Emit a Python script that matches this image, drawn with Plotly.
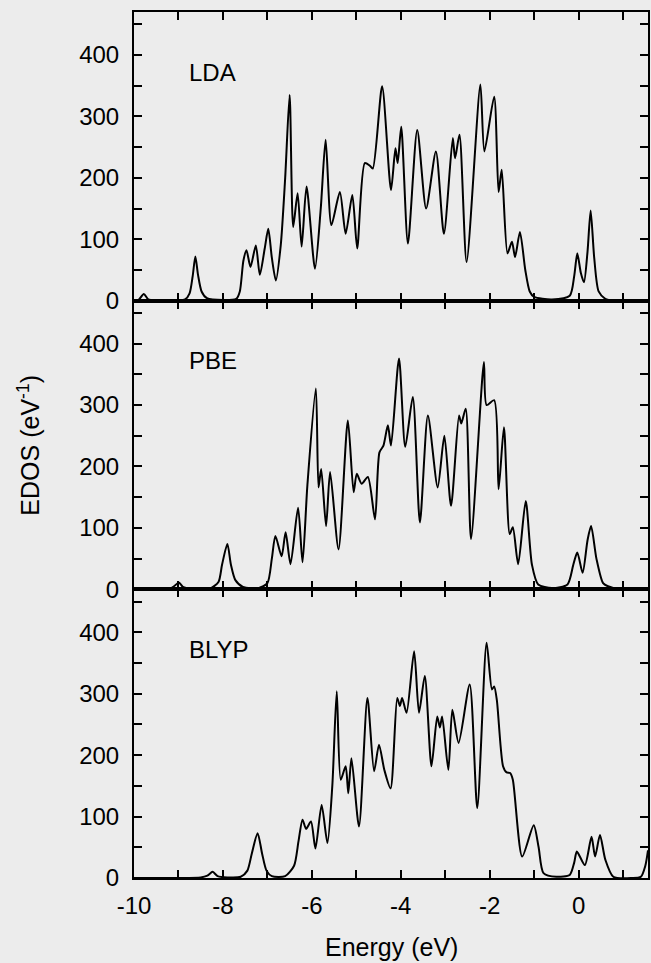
import plotly.graph_objects as go
from plotly.subplots import make_subplots

# ---------------- data ----------------
lda_energy = [-10.0, -9.9, -9.78, -9.68, -9.5, -9.0, -8.85, -8.75, -8.68, -8.62, -8.56, -8.48, -8.36, -8.0,
              -7.7, -7.62, -7.54, -7.47, -7.38, -7.26, -7.17, -7.06, -6.98, -6.90, -6.81, -6.70, -6.60,
              -6.50, -6.42, -6.32, -6.23, -6.12, -5.93, -5.80, -5.69, -5.56, -5.37, -5.24, -5.09, -4.98,
              -4.81, -4.70, -4.63, -4.42, -4.22, -4.12, -4.07, -3.99, -3.84, -3.63, -3.43, -3.21, -3.03,
              -2.83, -2.78, -2.68, -2.52, -2.21, -2.12, -1.90, -1.80, -1.73, -1.60, -1.50, -1.43, -1.32,
              -1.20, -1.10, -1.0, -0.6, -0.2, -0.10, -0.03, 0.05, 0.12, 0.20, 0.27, 0.35, 0.45, 0.6, 0.8, 1.56]
lda_edos = [0, 1, 11, 2, 0, 0, 2, 12, 40, 72, 42, 15, 4, 1,
            3, 15, 65, 82, 55, 90, 42, 85, 117, 70, 33, 90, 200,
            335, 120, 175, 88, 186, 52, 150, 262, 123, 177, 109, 172, 85,
            224, 220, 215, 349, 180, 248, 224, 283, 93, 278, 150, 243, 109,
            265, 232, 270, 63, 352, 243, 332, 177, 213, 77, 96, 71, 112,
            50, 15, 6, 2, 8, 40, 77, 45, 30, 80, 147, 70, 15, 3, 0, 0]

pbe_energy = [-10.0, -9.5, -9.2, -9.10, -8.99, -8.90, -8.7, -8.3, -8.10, -8.02, -7.90, -7.82, -7.72, -7.55,
              -7.2, -7.0, -6.90, -6.82, -6.68, -6.59, -6.48, -6.31, -6.21, -6.10, -5.91, -5.85, -5.79,
              -5.68, -5.59, -5.40, -5.19, -5.06, -4.99, -4.88, -4.74, -4.58, -4.48, -4.39, -4.29, -4.22,
              -4.04, -3.90, -3.73, -3.57, -3.39, -3.17, -3.02, -2.87, -2.69, -2.64, -2.54, -2.42, -2.13,
              -2.07, -1.90, -1.80, -1.68, -1.55, -1.48, -1.36, -1.19, -1.05, -0.91, -0.6, -0.25, -0.12,
              -0.03, 0.09, 0.20, 0.28, 0.40, 0.55, 0.66, 0.9, 1.56]
pbe_edos = [0, 0, 1, 5, 11, 4, 1, 1, 12, 40, 74, 40, 15, 4,
            2, 10, 50, 87, 54, 93, 41, 133, 44, 170, 327, 166, 196,
            103, 191, 65, 275, 158, 188, 172, 183, 114, 223, 234, 267, 234,
            376, 232, 313, 109, 283, 166, 250, 136, 283, 270, 294, 82, 370,
            300, 308, 163, 264, 90, 101, 41, 144, 40, 8, 2, 8, 40,
            60, 27, 80, 103, 50, 10, 5, 0, 0]

blyp_energy = [-10.0, -9.0, -8.5, -8.35, -8.23, -8.12, -7.9, -7.6, -7.45, -7.35, -7.22, -7.12, -7.02, -6.9,
               -6.6, -6.4, -6.30, -6.21, -6.13, -6.02, -5.92, -5.78, -5.65, -5.54, -5.44, -5.35, -5.24,
               -5.18, -5.11, -4.94, -4.75, -4.60, -4.49, -4.37, -4.23, -4.08, -4.02, -3.97, -3.87, -3.70,
               -3.59, -3.46, -3.31, -3.18, -3.12, -3.07, -2.93, -2.84, -2.70, -2.45, -2.28, -2.07, -1.95,
               -1.90, -1.84, -1.70, -1.62, -1.54, -1.48, -1.27, -1.01, -0.90, -0.79, -0.5, -0.2, -0.10,
               -0.04, 0.14, 0.29, 0.37, 0.48, 0.60, 0.78, 1.2, 1.40, 1.50, 1.56]
blyp_edos = [0, 0, 1, 4, 10, 3, 1, 2, 12, 40, 73, 40, 12, 3,
             3, 20, 60, 95, 80, 92, 48, 119, 57, 150, 304, 160, 182,
             138, 195, 84, 293, 174, 217, 176, 146, 293, 280, 293, 269, 369,
             269, 329, 182, 263, 245, 263, 176, 274, 220, 315, 114, 383, 307,
             312, 290, 182, 172, 171, 160, 35, 86, 50, 8, 2, 5, 25,
             43, 21, 67, 35, 70, 30, 2, 0, 2, 20, 45]

panel_names = ["LDA", "PBE", "BLYP"]

x_tickvals = [-10, -8, -6, -4, -2, 0]
x_ticktext = ["-10", "-8", "-6", "-4", "-2", "0"]
x_minor_tickvals = [-9, -7, -5, -3, -1, 1]
y_tickvals = [0, 100, 200, 300, 400]
y_ticktext = ["0", "100", "200", "300", "400"]
y_minor_tickvals = [50, 150, 250, 350, 450]

x_range = [-10, 1.56]
y_range = [0, 470]

# ---------------- figure ----------------
FONT = "Liberation Sans, Arial, Helvetica, sans-serif"
BG = "#ececec"
TICK = "black"

fig = make_subplots(rows=3, cols=1, shared_xaxes=True, vertical_spacing=0)
series = [(lda_energy, lda_edos), (pbe_energy, pbe_edos), (blyp_energy, blyp_edos)]
for i, (xs, ys) in enumerate(series):
    fig.add_trace(go.Scatter(x=xs, y=ys, mode="lines",
                             line=dict(color="black", width=2, shape="spline", smoothing=0.7),
                             showlegend=False, hoverinfo="skip"), row=i + 1, col=1)

for i in range(3):
    fig.update_xaxes(row=i + 1, col=1, range=x_range, tickmode="array",
                     tickvals=x_tickvals, ticktext=x_ticktext,
                     ticks="inside", ticklen=8, tickwidth=1.5, tickcolor=TICK,
                     minor=dict(tickmode="array", tickvals=x_minor_tickvals, ticks="inside",
                                ticklen=8, tickwidth=1.5, tickcolor=TICK, showgrid=False),
                     showline=True, linecolor="black", linewidth=2, mirror="ticks",
                     showgrid=False, zeroline=False, showticklabels=(i == 2),
                     tickfont=dict(family=FONT, size=24, color="black"), ticklabelstandoff=5)
    fig.update_yaxes(row=i + 1, col=1, range=y_range, tickmode="array",
                     tickvals=y_tickvals, ticktext=y_ticktext,
                     ticks="inside", ticklen=8, tickwidth=1.5, tickcolor=TICK,
                     minor=dict(tickmode="array", tickvals=y_minor_tickvals, ticks="inside",
                                ticklen=8, tickwidth=1.5, tickcolor=TICK, showgrid=False),
                     showline=True, linecolor="black", linewidth=2, mirror="ticks",
                     showgrid=False, zeroline=False,
                     tickfont=dict(family=FONT, size=24, color="black"), ticklabelstandoff=8)
    fig.add_annotation(text=panel_names[i], x=-8.8, y=372, xref=f"x{'' if i == 0 else i + 1}",
                       yref=f"y{'' if i == 0 else i + 1}", xanchor="left", yanchor="middle",
                       showarrow=False, font=dict(family=FONT, size=24, color="black"))

fig.add_annotation(text="Energy (eV)", xref="paper", yref="paper", x=0.5, y=-0.08,
                   xanchor="center", yanchor="middle", showarrow=False,
                   font=dict(family=FONT, size=25, color="black"))
fig.add_annotation(text="EDOS (eV<sup>-1</sup>)", xref="paper", yref="paper", x=-0.205, y=0.5,
                   xanchor="center", yanchor="middle", textangle=-90, showarrow=False,
                   font=dict(family=FONT, size=25, color="black"))

fig.update_layout(width=651, height=963, margin=dict(l=134, r=1, t=12, b=85),
                  paper_bgcolor=BG, plot_bgcolor=BG)

fig.write_html("out.html")
